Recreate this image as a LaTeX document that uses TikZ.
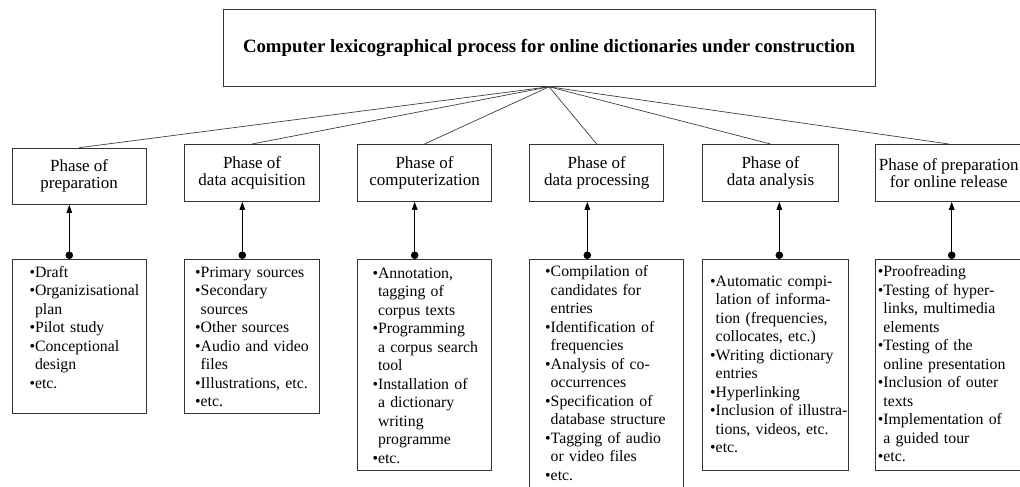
\documentclass[tikz,border=0pt]{standalone}
\usepackage{fontspec}
\setmainfont{Liberation Serif}
\usetikzlibrary{arrows.meta}

% indentation of a continued item line (width of the bullet)
\newcommand\contline{\hphantom{•}}

\tikzset{
  framecol/.style={draw=black!80, line width=0.8pt},
  titlebox/.style={framecol, anchor=north west, inner sep=0pt, align=center,
    font=\fontsize{18.8}{20}\selectfont\bfseries},
  phasebox/.style={framecol, anchor=north west, inner sep=0pt, align=center,
    font=\fontsize{17}{16.9}\selectfont},
  listbox/.style={framecol, anchor=north west, inner sep=0pt},
  listtext/.style={anchor=base west, inner sep=0pt, text width=200pt, align=left,
    font=\fontsize{15.8}{18.5}\selectfont},
  fan/.style={draw=black!75, line width=0.7pt},
  link/.style={draw=black, line width=0.8pt,
    {Circle[length=7.5pt]}-{Triangle[length=8pt,width=5.5pt]}},
}

\begin{document}
\begin{tikzpicture}[x=1pt, y=-1pt]
\useasboundingbox (0,0) rectangle (1020,487);
\clip (0,0) rectangle (1020,487);
\fill[white] (0,0) rectangle (1020,487);

% main heading
\node[titlebox, minimum width=652pt, minimum height=77pt] (top) at (222.7,9)
  {Computer lexicographical process for online dictionaries under construction};

% phases
\node[phasebox, minimum width=134pt, minimum height=56.3pt] (p1) at (11.7,147.7)
  {Phase of\\preparation};
\node[phasebox, minimum width=134.7pt, minimum height=57pt] (p2) at (184.3,144)
  {Phase of\\data acquisition};
\node[phasebox, minimum width=134.3pt, minimum height=57pt] (p3) at (357,144)
  {Phase of\\computerization};
\node[phasebox, minimum width=134pt, minimum height=57pt] (p4) at (529.3,144)
  {Phase of\\data processing};
\node[phasebox, minimum width=135.7pt, minimum height=57pt] (p5) at (702.3,144)
  {Phase of\\data analysis};
\node[phasebox, minimum width=147.3pt, minimum height=57pt] (p6) at (874.7,144)
  {Phase of preparation\\for online release};

% task boxes
\node[listbox, minimum width=134pt, minimum height=154pt] (b1) at (11.7,259) {};
\node[listbox, minimum width=135pt, minimum height=154pt] (b2) at (184.3,259) {};
\node[listbox, minimum width=134.3pt, minimum height=211pt] (b3) at (357,259) {};
\node[listbox, minimum width=153.4pt, minimum height=245pt] (b4) at (529.3,259) {};
\node[listbox, minimum width=145.7pt, minimum height=211.3pt] (b5) at (702,259) {};
\node[listbox, minimum width=147.3pt, minimum height=211pt] (b6) at (874.7,259) {};

% task lists
\node[listtext] (t1) at (29.3,277.3)
  {•Draft\\•Organizisational\\\contline plan\\•Pilot study\\•Conceptional\\\contline design\\•etc.};
\node[listtext] (t2) at (195,277.3)
  {•Primary sources\\•Secondary\\\contline sources\\•Other sources\\•Audio and video\\\contline files\\•Illustrations, etc.\\•etc.};
\node[listtext] (t3) at (372.3,278)
  {•Annotation,\\\contline tagging of\\\contline corpus texts\\•Programming\\\contline a corpus search\\\contline tool\\•Installation of\\\contline a dictionary\\\contline writing\\\contline programme\\•etc.};
\node[listtext] (t4) at (545,276.7)
  {•Compilation of\\\contline candidates for\\\contline entries\\•Identification of\\\contline frequencies\\•Analysis of co-\\\contline occurrences\\•Specification of\\\contline database structure\\•Tagging of audio\\\contline or video files\\•etc.};
\node[listtext] (t5) at (710,286)
  {•Automatic compi-\\\contline lation of informa-\\\contline tion (frequencies,\\\contline collocates, etc.)\\•Writing dictionary\\\contline entries\\•Hyperlinking\\•Inclusion of illustra-\\\contline tions, videos, etc.\\•etc.};
\node[listtext] (t6) at (877.7,276.7)
  {•Proofreading\\•Testing of hyper-\\\contline links, multimedia\\\contline elements\\•Testing of the\\\contline online presentation\\•Inclusion of outer\\\contline texts\\•Implementation of\\\contline a guided tour\\•etc.};

% fan from the heading to the phases
\foreach \p in {p1,p2,p3,p4,p5,p6}
  \draw[fan] (top.south) -- (\p.north);

% columns of the task-to-phase links
\coordinate (a1) at (69.3,0);
\coordinate (a2) at (242.3,0);
\coordinate (a3) at (414.7,0);
\coordinate (a4) at (587.3,0);
\coordinate (a5) at (779.3,0);
\coordinate (a6) at (951.7,0);

\foreach \i in {1,...,6}
  \draw[link] (b\i.north -| a\i) -- (p\i.south -| a\i);
\end{tikzpicture}
\end{document}
